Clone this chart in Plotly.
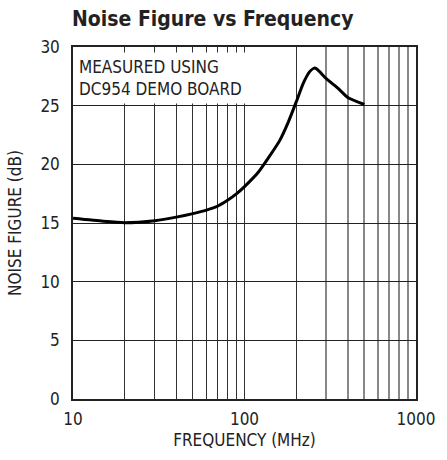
import plotly.graph_objects as go

# Data
freq_mhz = [10, 15, 20, 30, 40, 50, 60, 70, 80, 90, 100, 120, 140, 160, 180, 200,
            220, 240, 255, 265, 300, 350, 400, 500]
noise_figure_db = [15.4, 15.15, 15.03, 15.2, 15.5, 15.8, 16.1, 16.45, 16.95, 17.5, 18.1,
                   19.3, 20.7, 22.0, 23.6, 25.3, 26.9, 27.9, 28.2, 28.1, 27.3, 26.5, 25.7, 25.1]

x_tickvals = [10, 20, 30, 40, 50, 60, 70, 80, 90, 100, 200, 1000]
x_ticktext = ["10", "", "", "", "", "", "", "", "", "100", "", "1000"]
x_minor_vals = [300, 400, 500, 600, 700, 800, 900]
y_tickvals = [0, 5, 10, 15, 20, 25, 30]

FONT = "DejaVu Sans Condensed, Liberation Sans, sans-serif"

fig = go.Figure()
fig.add_trace(go.Scatter(
    x=freq_mhz, y=noise_figure_db, mode="lines",
    line=dict(color="black", width=3, shape="spline", smoothing=0.5),
    showlegend=False, hoverinfo="skip",
))

fig.update_layout(
    width=447, height=460,
    margin=dict(l=73, r=22, t=47, b=61),
    paper_bgcolor="white", plot_bgcolor="white",
    font=dict(family=FONT, size=17, color="#222"),
    title=dict(text="<b>Noise Figure vs Frequency</b>", x=72/447, xanchor="left",
               y=1 - 19/460, yanchor="middle",
               font=dict(family=FONT, size=21, color="#222")),
    xaxis=dict(type="log", range=[1, 3], tickvals=x_tickvals, ticktext=x_ticktext,
               showgrid=True, gridcolor="#333", gridwidth=1,
               minor=dict(tickmode="array", tickvals=x_minor_vals, showgrid=True,
                          gridcolor="#888", gridwidth=1.5, ticks=""),
               showline=True, linecolor="#222", linewidth=1.5, mirror=True,
               ticks="", ticklen=0, zeroline=False, ticklabelstandoff=4,
               title=dict(text="FREQUENCY (MHz)", standoff=6, font=dict(size=17)),
               tickfont=dict(size=17)),
    yaxis=dict(range=[0, 30], tickvals=y_tickvals,
               showgrid=True, gridcolor="#222", gridwidth=1,
               showline=True, linecolor="#222", linewidth=1.5, mirror=True,
               ticks="", zeroline=False, ticklabelstandoff=8,
               title=dict(text="NOISE FIGURE (dB)", standoff=14, font=dict(size=17)),
               tickfont=dict(size=17)),
    annotations=[dict(
        text="MEASURED USING<br>DC954 DEMO BOARD",
        xref="paper", yref="paper", x=2/352, y=1 - 5/352,
        xanchor="left", yanchor="top", align="left",
        showarrow=False, bgcolor="white", borderpad=3,
        width=164, height=44,
        font=dict(family=FONT, size=17, color="#222"),
    )],
)

fig.write_html(
    "out.html",
    config={"displayModeBar": False},
    post_script="document.body.style.margin='0';document.body.style.overflow='hidden';",
)
